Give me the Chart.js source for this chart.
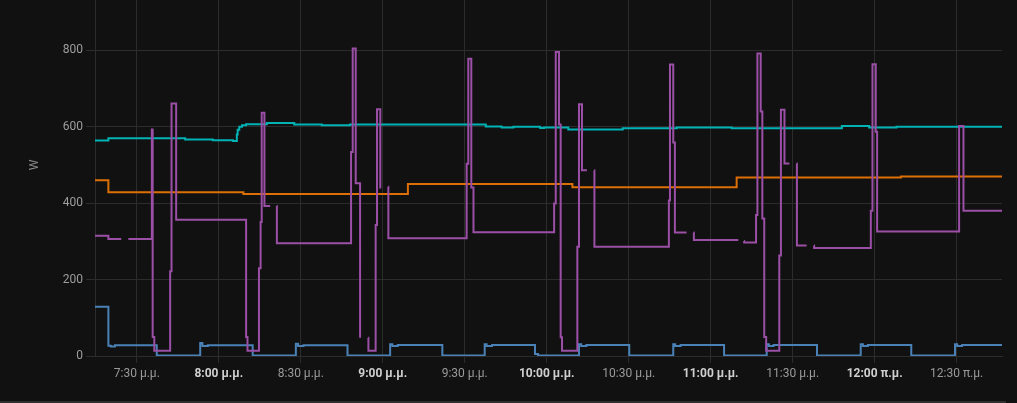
<!DOCTYPE html>
<html>
<head>
<meta charset="utf-8">
<script src="https://cdn.jsdelivr.net/npm/chart.js@4.4.1/dist/chart.umd.min.js"></script>
<style>
  html, body { margin: 0; padding: 0; background: #111111; }
  #wrap { width: 1017px; height: 401px; position: relative; }
  #edge { width: 1006px; height: 2px; background: #2f2f2f; }
</style>
</head>
<body>
<div id="wrap"><canvas id="chart"></canvas></div>
<div id="edge"></div>
<script>
/* Power history (W), x = minutes after 19:00 */

// ====== Axes ======
const xMin = 14.7;
const xMax = 346.6;
const tickMinutes = [30, 60, 90, 120, 150, 180, 210, 240, 270, 300, 330];
const tickLabels = ['7:30 μ.μ.', '8:00 μ.μ.', '8:30 μ.μ.', '9:00 μ.μ.', '9:30 μ.μ.', '10:00 μ.μ.',
                    '10:30 μ.μ.', '11:00 μ.μ.', '11:30 μ.μ.', '12:00 π.μ.', '12:30 π.μ.'];
const yTicks = [0, 200, 400, 600, 800];
const yMax = 932;

// ====== Series: [minute, W] (value holds until next point, null = gap) ======
const tealPts = [
  [14.7, 564], [19.6, 570], [47.7, 567], [57.8, 565], [65.2, 563], [66.6, 580], [66.9, 592],
  [67.5, 600], [68.5, 604], [70.0, 607], [77.6, 610], [87.6, 606], [97.7, 604], [108, 606],
  [157.7, 601], [163.5, 598], [167.8, 600], [177.6, 597], [179, 598], [187.9, 593], [207.8, 596],
  [227.6, 598], [247.7, 596], [288, 602], [298, 598], [308, 600], [346.6, 600]
];

const orangePts = [
  [14.7, 460], [19.6, 429], [69, 424], [129.2, 450], [189.4, 442], [249.5, 467], [309.6, 470], [346.6, 470]
];

const bluePts = [
  [14.7, 129], [19.6, 27], [20.5, 25], [22, 28], [37.3, 1],
  [53.2, 34], [54, 26], [56, 28], [72.4, 1],
  [88.2, 32], [89, 26], [91, 28], [107.1, 1],
  [122.7, 31], [123.5, 26], [125.5, 29], [141.8, 1],
  [157.3, 31], [158, 26], [160, 29], [175.7, 5], [176.8, 1],
  [191.8, 31], [192.6, 26], [194.5, 29], [210.2, 1],
  [226.3, 31], [227, 26], [229, 29], [244.9, 1],
  [260.5, 31], [261.3, 26], [263, 29], [278.9, 1],
  [294.9, 31], [295.7, 26], [297.5, 29], [313.4, 1],
  [329.4, 31], [330.2, 26], [332, 29], [346.6, 28]
];

const purplePts = [
  [14.7, 315], [19.6, 306], [24.3, 306], [25.5, null], [26.9, 306],
  [35.5, 593], [35.8, 50], [36.4, 14], [42.2, 222], [42.7, 661], [44.4, 357],
  [70.0, 50], [70.5, 14], [74.7, 230], [75.3, 351], [75.7, 637], [76.7, 393], [78.8, 393],
  [80, null], [81.2, 393], [81.25, 295],
  [108.4, 534], [109, 805], [110.1, 452], [111.7, 48], [113, null], [114.7, 48], [114.75, 14],
  [117.4, 343], [117.9, 646], [119.1, 441], [119.4, 441], [120.5, null], [122, 443], [122.05, 308],
  [150.7, 503], [151.3, 778], [152.4, 441], [153.2, 324],
  [182.7, 399], [183.3, 796], [184.5, 606], [185.1, 49], [185.6, 14],
  [191.2, 286], [191.8, 659], [192.9, 486], [194.7, 486], [196, null], [197.4, 486], [197.45, 286],
  [224.7, 407], [225.1, 763], [226.3, 559], [226.9, 323], [231.2, 323], [232.5, null],
  [233.8, 323], [233.85, 304], [250.1, 304], [251, null], [252.2, 301], [252.25, 297],
  [256.6, 369], [257.1, 792], [258.3, 640], [258.9, 360], [259.6, 50], [260.3, 14],
  [265.1, 263], [265.7, 645], [267, 504], [268.8, 504], [270, null], [271.5, 504], [271.55, 289],
  [275.1, 289], [276.5, null], [277.8, 289], [277.85, 283],
  [298.6, 380], [299.2, 764], [300.4, 587], [300.9, 326],
  [330.9, 602], [332.5, 380], [346.6, 380]
];

// ====== Helpers ======
const toXY = (pts) => pts.map(([x, y]) => ({ x, y }));

function series(pts, color) {
  return {
    data: toXY(pts),
    borderColor: color,
    borderWidth: 2,
    pointRadius: 0,
    stepped: true,
    spanGaps: false,
    fill: false
  };
}

const GRID = '#2c2c2c';

// rotated "W" unit label left of the y axis
const unitLabel = {
  id: 'unitLabel',
  afterDraw(chart) {
    const ctx = chart.ctx;
    ctx.save();
    ctx.translate(35, 165);
    ctx.rotate(-Math.PI / 2);
    ctx.fillStyle = '#8e8e8e';
    ctx.font = '12px Roboto';
    ctx.textAlign = 'center';
    ctx.textBaseline = 'middle';
    ctx.fillText('W', 0, 0);
    ctx.restore();
  }
};

new Chart(document.getElementById('chart'), {
  type: 'line',
  data: {
    datasets: [
      series(purplePts, '#9b4fa6'),
      series(tealPts, '#00b3b5'),
      series(orangePts, '#dc6f06'),
      series(bluePts, '#4a82b8')
    ]
  },
  options: {
    responsive: true,
    maintainAspectRatio: false,
    animation: false,
    layout: { padding: { left: 0, right: 15, top: 0, bottom: 0 } },
    plugins: { legend: { display: false }, tooltip: { enabled: false } },
    scales: {
      x: {
        type: 'linear',
        min: xMin,
        max: xMax,
        afterBuildTicks: (s) => { s.ticks = tickMinutes.map(v => ({ value: v })); },
        afterFit: (s) => { s.height = 45; s.paddingLeft = 0; s.paddingRight = 0; },
        grid: { color: GRID, tickLength: 7 },
        border: { color: GRID },
        ticks: {
          autoSkip: false,
          maxRotation: 0,
          padding: 4,
          callback: (v) => tickLabels[tickMinutes.indexOf(v)],
          color: (c) => (c.tick && c.tick.value % 60 === 0) ? '#cfcfcf' : '#9a9a9a',
          font: (c) => ({
            family: 'Roboto',
            size: 12,
            weight: (c.tick && c.tick.value % 60 === 0) ? 'bold' : 'normal'
          })
        }
      },
      y: {
        min: 0,
        max: yMax,
        afterBuildTicks: (s) => { s.ticks = yTicks.map(v => ({ value: v })); },
        afterFit: (s) => { s.width = 95; s.paddingTop = 0; s.paddingBottom = 0; },
        grid: { color: GRID, tickLength: 9 },
        border: { color: GRID },
        ticks: {
          padding: 3,
          color: '#9e9e9e',
          font: { family: 'Roboto', size: 12 }
        }
      }
    }
  },
  plugins: [unitLabel]
});
</script>
</body>
</html>
